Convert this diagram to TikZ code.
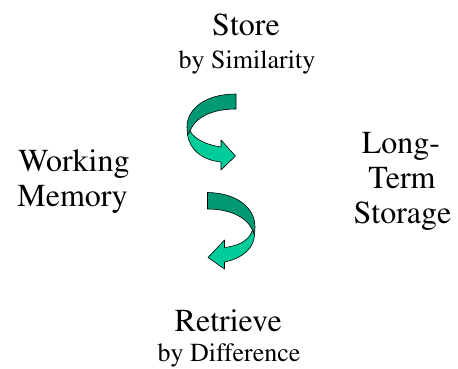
\documentclass[tikz,border=0pt]{standalone}
\usepackage[T1]{fontenc}
\usepackage{times}
\definecolor{ribbondark}{RGB}{0,153,115}
\definecolor{ribbonlight}{RGB}{0,204,153}
\begin{document}
\begin{tikzpicture}[x=1pt,y=-1pt,
  big/.style={font=\rmfamily\fontsize{32}{35}\selectfont, anchor=base, inner sep=0pt},
  small/.style={font=\rmfamily\fontsize{26}{30}\selectfont, anchor=base, inner sep=0pt},
  ribbon/.style={draw=black, line width=0.6pt, line join=round}]
\useasboundingbox (0,0) rectangle (458,369);

% labels
\node[big]   (store)   at (246,36)    {Store};
\node[small] (storeby) at (247,68.3)  {by Similarity};
\node[big]   (wm1)     at (74,171.5)  {Working};
\node[big]   (wm2)     at (72.5,206)  {Memory};
\node[big]   (lt1)     at (401,153)   {Long-};
\node[big]   (lt2)     at (402,188)   {Term};
\node[big]   (lt3)     at (402.5,223) {Storage};
\node[big]   (ret)     at (228.3,331.5) {Retrieve};
\node[small] (retby)   at (229,361.5) {by Difference};

% top ribbon arrow (store)
\filldraw[ribbon, fill=ribbondark]
  (236,94) .. controls (205,94) and (187,109) .. (187,127)
  -- (187.5,135) -- (190,131)
  .. controls (196,116) and (214,109) .. (236,109) -- cycle;
\filldraw[ribbon, fill=ribbonlight]
  (190,131) .. controls (195,140) and (208,145) .. (221,147)
  -- (221,140) -- (235.5,156) -- (221,170) -- (221,162)
  .. controls (202,160) and (190,150) .. (187.5,135) -- cycle;

% bottom ribbon arrow (retrieve)
\filldraw[ribbon, fill=ribbondark]
  (207.5,192.5) .. controls (236,193) and (255,207) .. (255,227)
  -- (254.5,235) -- (252.5,230)
  .. controls (246,216) and (228,209) .. (207.5,209) -- cycle;
\filldraw[ribbon, fill=ribbonlight]
  (252.5,230) .. controls (249,241) and (238,246) .. (224.5,247.5)
  -- (224.5,240) -- (208,257.5) -- (224.5,269) -- (224.5,262)
  .. controls (244,258) and (254,247) .. (254.5,235) -- cycle;
\end{tikzpicture}
\end{document}
